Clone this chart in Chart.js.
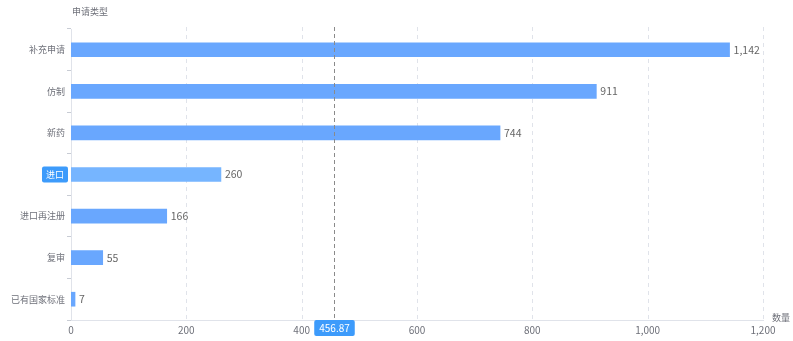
<!DOCTYPE html>
<html>
<head>
<meta charset="utf-8">
<style>
  html, body { margin: 0; padding: 0; background: #fff; }
  #wrap { width: 793px; height: 341px; }
</style>
<script src="https://cdn.jsdelivr.net/npm/chart.js@4/dist/chart.umd.min.js"></script>
</head>
<body>
<div id="wrap"><canvas id="c" width="793" height="341"></canvas></div>
<script>
// Application types and their counts
const categories = ['补充申请', '仿制', '新药', '进口', '进口再注册', '复审', '已有国家标准'];
const counts = [1142, 911, 744, 260, 166, 55, 7];
const xTicks = [0, 200, 400, 600, 800, 1000, 1200];
const yAxisName = '申请类型';
const xAxisName = '数量';
const pointerValue = 456.87;
const activeCategory = '进口';

const FONT = '"Noto Sans CJK SC", "Noto Sans", sans-serif';
const BAR = '#69a7fe';
const BAR_ACTIVE = '#76b5ff';
const ACCENT = '#3d9bfb';
const TEXT = '#6e7079';
const LINE = '#e0e3ea';

function roundRect(ctx, x, y, w, h, r) {
  ctx.beginPath();
  ctx.moveTo(x + r, y);
  ctx.lineTo(x + w - r, y);
  ctx.quadraticCurveTo(x + w, y, x + w, y + r);
  ctx.lineTo(x + w, y + h - r);
  ctx.quadraticCurveTo(x + w, y + h, x + w - r, y + h);
  ctx.lineTo(x + r, y + h);
  ctx.quadraticCurveTo(x, y + h, x, y + h - r);
  ctx.lineTo(x, y + r);
  ctx.quadraticCurveTo(x, y, x + r, y);
  ctx.closePath();
}

// Value labels at the end of each bar, axis names, axis pointer
const overlay = {
  id: 'overlay',
  beforeDatasetsDraw(chart) {
    const { ctx, chartArea, scales } = chart;
    // dashed vertical grid lines
    ctx.save();
    ctx.strokeStyle = LINE;
    ctx.lineWidth = 1;
    ctx.setLineDash([4, 4]);
    xTicks.forEach(v => {
      if (v === 0) return;
      const x = Math.round(scales.x.getPixelForValue(v)) + 0.5;
      ctx.beginPath();
      ctx.moveTo(x, chartArea.top - 2);
      ctx.lineTo(x, chartArea.bottom);
      ctx.stroke();
    });
    ctx.restore();
  },
  afterDatasetsDraw(chart) {
    const { ctx, chartArea, scales } = chart;
    const meta = chart.getDatasetMeta(0);
    ctx.save();
    ctx.font = '10.5px ' + FONT;
    ctx.fillStyle = '#666';
    ctx.textAlign = 'left';
    ctx.textBaseline = 'middle';
    meta.data.forEach((bar, i) => {
      ctx.fillText(counts[i].toLocaleString('en-US'), bar.x + 4, bar.y);
    });

    // axis names
    ctx.font = '9px ' + FONT;
    ctx.fillStyle = TEXT;
    ctx.fillText(yAxisName, chartArea.left + 1, 12);
    ctx.fillText(xAxisName, chartArea.right + 9, chartArea.bottom - 2);

    // axis pointer line
    const px = Math.round(scales.x.getPixelForValue(pointerValue)) + 0.5;
    ctx.strokeStyle = '#8a8a8a';
    ctx.lineWidth = 1;
    ctx.setLineDash([4, 3]);
    ctx.beginPath();
    ctx.moveTo(px, chartArea.top - 2);
    ctx.lineTo(px, chartArea.bottom);
    ctx.stroke();
    ctx.setLineDash([]);

    // axis pointer value label
    ctx.font = '10px ' + FONT;
    const txt = pointerValue.toFixed(2);
    const tw = ctx.measureText(txt).width;
    const bw = tw + 10, bh = 16;
    roundRect(ctx, px - bw / 2, chartArea.bottom, bw, bh, 2);
    ctx.fillStyle = ACCENT;
    ctx.fill();
    ctx.fillStyle = '#fff';
    ctx.textAlign = 'center';
    ctx.fillText(txt, px, chartArea.bottom + bh / 2 + 0.5);

    // highlighted category label
    const idx = categories.indexOf(activeCategory);
    const cy = scales.y.getPixelForValue(idx);
    ctx.font = '9px ' + FONT;
    const cw = ctx.measureText(activeCategory).width;
    const right = chartArea.left - 3;
    roundRect(ctx, right - cw - 8, cy - 8, cw + 8, 16, 2);
    ctx.fillStyle = ACCENT;
    ctx.fill();
    ctx.fillStyle = '#fff';
    ctx.textAlign = 'right';
    ctx.fillText(activeCategory, right - 4, cy + 0.5);
    ctx.restore();
  }
};

new Chart(document.getElementById('c'), {
  type: 'bar',
  data: {
    labels: categories,
    datasets: [{
      data: counts,
      backgroundColor: categories.map(c => c === activeCategory ? BAR_ACTIVE : BAR),
      barThickness: 14,
      borderWidth: 0
    }]
  },
  options: {
    indexAxis: 'y',
    responsive: false,
    animation: false,
    events: [],
    layout: { padding: { top: 29, right: 30, left: 0, bottom: 0 } },
    plugins: { legend: { display: false }, tooltip: { enabled: false } },
    scales: {
      x: {
        min: 0,
        max: 1200,
        afterBuildTicks: s => { s.ticks = xTicks.map(v => ({ value: v })); },
        afterFit: s => { s.height = 21; },
        grid: { display: false, drawTicks: false },
        border: { display: true, color: LINE },
        ticks: {
          padding: 4,
          color: TEXT,
          font: { family: FONT, size: 10 },
          callback: v => v.toLocaleString('en-US')
        }
      },
      y: {
        afterFit: s => { s.width = 71; },
        grid: { offset: true, drawOnChartArea: false, drawTicks: true, tickLength: 4, color: '#c8ccd4' },
        border: { display: true, color: LINE },
        ticks: {
          padding: 2,
          color: ctx => categories[ctx.index] === activeCategory ? 'rgba(0,0,0,0)' : TEXT,
          font: { family: FONT, size: 9 }
        }
      }
    }
  },
  plugins: [overlay]
});
</script>
</body>
</html>
